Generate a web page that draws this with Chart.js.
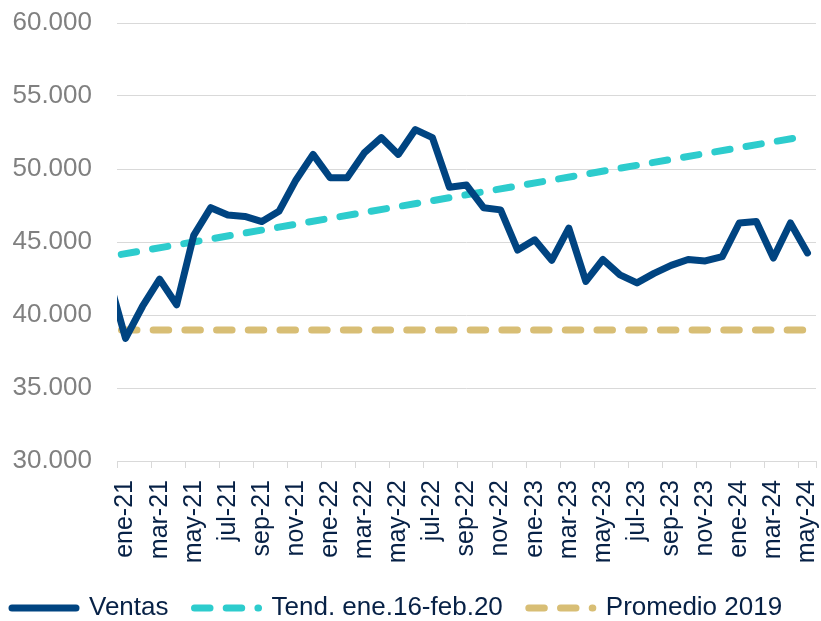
<!DOCTYPE html>
<html lang="es">
<head>
<meta charset="utf-8">
<title>Ventas mensuales</title>
<script src="https://cdn.jsdelivr.net/npm/chart.js@4.4.1/dist/chart.umd.min.js"></script>
<style>
  html, body { margin: 0; padding: 0; background: #fff; }
  #wrap { width: 821px; height: 621px; }
</style>
</head>
<body>
<div id="wrap"><canvas id="ventasChart"></canvas></div>
<script>
// dic-20 queda fuera del eje: sólo sirve para que las líneas entren por la izquierda
const meses = [
  'dic-20',
  'ene-21', 'feb-21', 'mar-21', 'abr-21', 'may-21', 'jun-21', 'jul-21', 'ago-21', 'sep-21', 'oct-21', 'nov-21', 'dic-21',
  'ene-22', 'feb-22', 'mar-22', 'abr-22', 'may-22', 'jun-22', 'jul-22', 'ago-22', 'sep-22', 'oct-22', 'nov-22', 'dic-22',
  'ene-23', 'feb-23', 'mar-23', 'abr-23', 'may-23', 'jun-23', 'jul-23', 'ago-23', 'sep-23', 'oct-23', 'nov-23', 'dic-23',
  'ene-24', 'feb-24', 'mar-24', 'abr-24', 'may-24'
];

const ventas = [
  42600,
  38400, 40600, 42450, 40700, 45450, 47350, 46850, 46750, 46400, 47100, 49250, 51000,
  49400, 49400, 51100, 52150, 51000, 52700, 52150, 48750, 48900, 47350, 47200, 44450,
  45150, 43750, 45950, 42300, 43800, 42750, 42200, 42850, 43400, 43800, 43700, 44000,
  46300, 46400, 43900, 46300, 44250
];

// Tendencia ene.16-feb.20 (recta) y promedio 2019: sólo extremos
const tendFechas = ['dic-20', 'may-24'];
const tendValores = [44000, 52270];
const promFechas = ['dic-20', 'may-24'];
const promValores = [38970, 38970];

const yMin = 30000, yMax = 60000, yPaso = 5000;

const NAVY = '#004481';
const AQUA = '#2DCCCD';
const SAND = '#D8BE75';
const TEXTO = '#072146';
const GRIS = '#808080';
const REJILLA = '#d9d9d9';
const FUENTE = "'Liberation Sans', Arial, sans-serif";
const TRAZO = [15.5, 16.2];

function miles(v) {
  return String(v).replace(/\B(?=(\d{3})+(?!\d))/g, '.');
}

function puntos(fechas, valores) {
  return fechas.map((m, i) => ({ x: m, y: valores[i] }));
}

// sin márgenes extra por las etiquetas: el área del gráfico queda fija
function sinRelleno(scale) {
  scale.paddingTop = 0;
  scale.paddingBottom = 0;
  scale.paddingLeft = 0;
  scale.paddingRight = 0;
}

const ctx = document.getElementById('ventasChart').getContext('2d');
window.ventasChart = new Chart(ctx, {
  type: 'line',
  data: {
    labels: meses,
    datasets: [
      {
        label: 'Ventas',
        data: ventas,
        borderColor: NAVY,
        backgroundColor: NAVY,
        borderWidth: 7,
        borderCapStyle: 'round',
        borderJoinStyle: 'round',
        pointRadius: 0,
        tension: 0,
        clip: 0
      },
      {
        label: 'Tend. ene.16-feb.20',
        data: puntos(tendFechas, tendValores),
        borderColor: AQUA,
        backgroundColor: AQUA,
        borderWidth: 7,
        borderDash: TRAZO,
        borderDashOffset: 18.7,
        borderCapStyle: 'round',
        pointRadius: 0,
        clip: 0
      },
      {
        label: 'Promedio 2019',
        data: puntos(promFechas, promValores),
        borderColor: SAND,
        backgroundColor: SAND,
        borderWidth: 7,
        borderDash: TRAZO,
        borderDashOffset: 18.7,
        borderCapStyle: 'round',
        pointRadius: 0,
        clip: 0
      }
    ]
  },
  options: {
    responsive: true,
    maintainAspectRatio: false,
    animation: false,
    layout: {
      padding: { top: 23, right: 5, bottom: -10, left: -14 }
    },
    scales: {
      x: {
        type: 'category',
        min: meses[1],
        offset: true,
        afterFit: scale => {
          scale.height = 108;
          sinRelleno(scale);
        },
        grid: {
          offset: true,
          drawOnChartArea: false,
          drawTicks: true,
          tickLength: 7,
          color: c => (c.type !== 'tick' || c.index % 2 === 0) ? REJILLA : 'rgba(0,0,0,0)'
        },
        border: { display: true, color: REJILLA, width: 1 },
        ticks: {
          autoSkip: false,
          minRotation: 90,
          maxRotation: 90,
          padding: 12,
          color: TEXTO,
          font: { family: FUENTE, size: 25 },
          callback: function(value, index) {
            return index % 2 === 0 ? this.getLabelForValue(value) : '';
          }
        }
      },
      y: {
        min: yMin,
        max: yMax,
        afterFit: scale => {
          scale.width = 131;
          sinRelleno(scale);
        },
        grid: { color: REJILLA, lineWidth: 1, drawTicks: false },
        border: { display: false },
        ticks: {
          stepSize: yPaso,
          padding: 25,
          color: GRIS,
          font: { family: FUENTE, size: 26 },
          callback: value => miles(value)
        }
      }
    },
    plugins: {
      tooltip: { enabled: false },
      legend: {
        position: 'bottom',
        align: 'start',
        labels: {
          usePointStyle: true,
          pointStyle: 'line',
          pointStyleWidth: 64,
          padding: 26,
          color: TEXTO,
          font: { family: FUENTE, size: 26 },
          generateLabels: chart => {
            const items = Chart.defaults.plugins.legend.labels.generateLabels(chart);
            items.forEach(it => {
              const ds = chart.data.datasets[it.datasetIndex];
              it.lineDash = ds.borderDash || [];
              it.lineDashOffset = 0;
              it.lineCap = 'round';
              it.lineWidth = ds.borderWidth;
            });
            return items;
          }
        }
      }
    }
  }
});
</script>
</body>
</html>
